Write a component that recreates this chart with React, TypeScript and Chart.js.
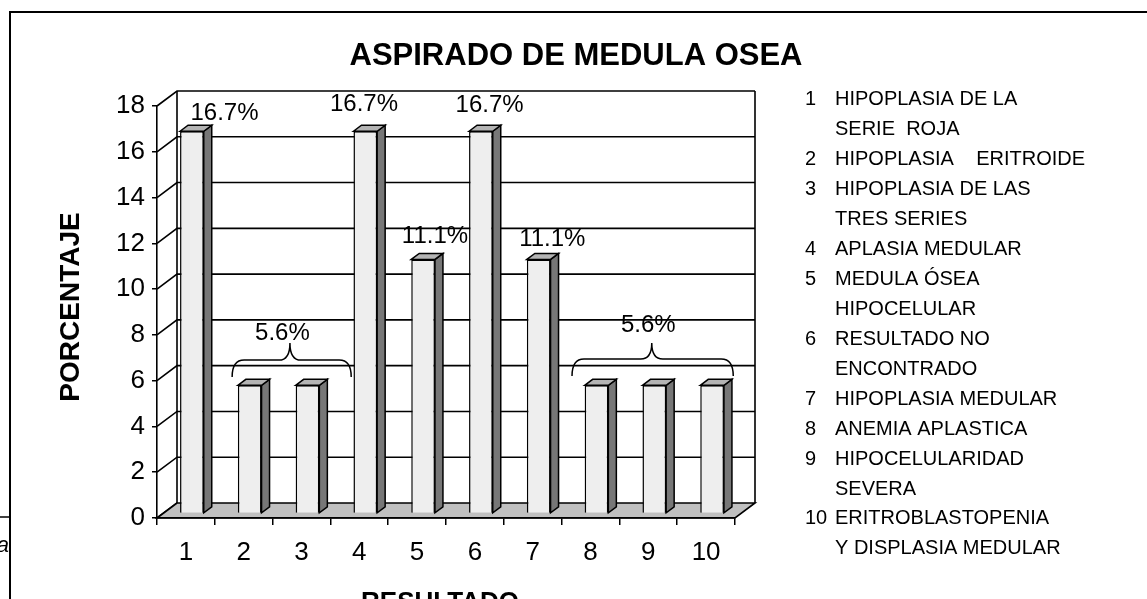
import React, { useEffect, useRef } from 'react';
import { Chart, registerables } from 'chart.js';

Chart.register(...registerables);

// ---------------- data ----------------
const categories = ['1', '2', '3', '4', '5', '6', '7', '8', '9', '10'];
const percentages = [16.7, 5.6, 5.6, 16.7, 11.1, 16.7, 11.1, 5.6, 5.6, 5.6];
const yMin = 0;
const yMax = 18;
const yStep = 2;

const chartTitle = 'ASPIRADO DE MEDULA OSEA';
const yAxisTitle = 'PORCENTAJE';
const xAxisTitle = 'RESULTADO';

const legendNumbers = categories;
const legendDescriptions = [
  ['HIPOPLASIA DE LA', 'SERIE  ROJA'],
  ['HIPOPLASIA    ERITROIDE'],
  ['HIPOPLASIA DE LAS', 'TRES SERIES'],
  ['APLASIA MEDULAR'],
  ['MEDULA ÓSEA', 'HIPOCELULAR'],
  ['RESULTADO NO', 'ENCONTRADO'],
  ['HIPOPLASIA MEDULAR'],
  ['ANEMIA APLASTICA'],
  ['HIPOCELULARIDAD', 'SEVERA'],
  ['ERITROBLASTOPENIA', 'Y DISPLASIA MEDULAR'],
];

// bars carrying their own value label, and groups labelled once with a brace
const singleLabelBars = [0, 3, 4, 5, 6];
const bracedGroups = [
  [1, 2],
  [7, 8, 9],
];

// ---------------- layout / style (not data) ----------------
const W = 1147;
const H = 599;
const PLOT = { left: 157, right: 735, top: 106, bottom: 518 };
const WALL = { dx: 20, dy: -15 };
const BAR_FRONT = { dx: 6, dy: -4.5 };
const BAR_SIDE = { dx: 8, dy: -6 };
const FONT = '"Liberation Sans", Arial, sans-serif';
// pixel offsets of single value labels from (bar front centre, value pixel)
const singleLabelOffset: Record<number, [number, number]> = {
  0: [32.6, -24.7],
  3: [-1.3, -33.7],
  4: [11.9, -29.9],
  5: [8.7, -32.7],
  6: [13.6, -26.9],
};
// brace geometry in (category index, value) units
const braceGeom = [
  { x0: 0.8, x1: 2.86, xc: 1.8, yEnd: 6.16, yMid: 6.9, yTip: 7.65, tx: 1.67, ty: 8.17 },
  { x0: 6.68, x1: 9.47, xc: 8.06, yEnd: 6.2, yMid: 6.95, yTip: 7.65, tx: 8.0, ty: 8.52 },
];
const LEGEND = { numX: 805, textX: 835, firstY: 98.3, lineH: 29.93, size: 20 };

const fmt = (v: number) => v.toFixed(1) + '%';

function poly(ctx: CanvasRenderingContext2D, pts: number[][], fill: string) {
  ctx.beginPath();
  ctx.moveTo(pts[0][0], pts[0][1]);
  for (let i = 1; i < pts.length; i++) ctx.lineTo(pts[i][0], pts[i][1]);
  ctx.closePath();
  ctx.fillStyle = fill;
  ctx.fill();
  ctx.stroke();
}

function drawBrace(
  ctx: CanvasRenderingContext2D,
  xl: number,
  xr: number,
  xc: number,
  yEnd: number,
  yMid: number,
  yTip: number
) {
  const r = 12;
  const rc = 11;
  ctx.beginPath();
  ctx.moveTo(xl, yEnd);
  ctx.quadraticCurveTo(xl, yMid, xl + r, yMid);
  ctx.lineTo(xc - rc, yMid);
  ctx.quadraticCurveTo(xc, yMid, xc, yTip);
  ctx.quadraticCurveTo(xc, yMid, xc + rc, yMid);
  ctx.lineTo(xr - r, yMid);
  ctx.quadraticCurveTo(xr, yMid, xr, yEnd);
  ctx.stroke();
}

const threeD = {
  id: 'threeD',
  beforeDraw(chart: any) {
    const { ctx, chartArea: a } = chart;
    const y = chart.scales.y;
    ctx.save();
    ctx.fillStyle = '#fff';
    ctx.fillRect(0, 0, W, H);
    ctx.strokeStyle = '#000';
    // outer frame
    ctx.lineWidth = 2;
    ctx.beginPath();
    ctx.moveTo(10, H + 2);
    ctx.lineTo(10, 12);
    ctx.lineTo(W + 2, 12);
    ctx.stroke();
    // stray piece of page behind the chart
    ctx.lineWidth = 1.5;
    ctx.beginPath();
    ctx.moveTo(0, 517);
    ctx.lineTo(10, 517);
    ctx.stroke();
    ctx.fillStyle = '#000';
    ctx.font = 'italic 22px ' + FONT;
    ctx.textAlign = 'right';
    ctx.textBaseline = 'alphabetic';
    ctx.fillText('pa', 9, 552);

    // walls
    ctx.lineWidth = 1.6;
    const L = a.left;
    const R = a.right;
    for (let v = yMin; v <= yMax; v += yStep) {
      const py = y.getPixelForValue(v);
      ctx.beginPath();
      ctx.moveTo(L, py);
      ctx.lineTo(L + WALL.dx, py + WALL.dy);
      if (v > yMin) ctx.lineTo(R + WALL.dx, py + WALL.dy);
      ctx.stroke();
    }
    const topB = y.getPixelForValue(yMax) + WALL.dy;
    const botB = y.getPixelForValue(yMin) + WALL.dy;
    ctx.beginPath();
    ctx.moveTo(L + WALL.dx, topB);
    ctx.lineTo(L + WALL.dx, botB);
    ctx.moveTo(R + WALL.dx, topB);
    ctx.lineTo(R + WALL.dx, botB);
    ctx.stroke();
    // floor
    const b0 = y.getPixelForValue(yMin);
    poly(
      ctx,
      [
        [L, b0],
        [R, b0],
        [R + WALL.dx, b0 + WALL.dy],
        [L + WALL.dx, b0 + WALL.dy],
      ],
      '#c0c0c0'
    );
    ctx.restore();
  },
  beforeDatasetsDraw(chart: any) {
    chart.ctx.save();
    chart.ctx.translate(BAR_FRONT.dx, BAR_FRONT.dy);
  },
  afterDatasetsDraw(chart: any) {
    const ctx = chart.ctx;
    ctx.restore();
    ctx.save();
    ctx.strokeStyle = '#000';
    ctx.lineWidth = 1.5;
    ctx.lineJoin = 'miter';
    const meta = chart.getDatasetMeta(0);
    meta.data.forEach((el: any) => {
      const { x, y, base, width } = el.getProps(['x', 'y', 'base', 'width'], true);
      const xl = x - width / 2 + BAR_FRONT.dx;
      const xr = x + width / 2 + BAR_FRONT.dx;
      const yt = y + BAR_FRONT.dy;
      const yb = base + BAR_FRONT.dy;
      poly(
        ctx,
        [
          [xr, yt],
          [xr + BAR_SIDE.dx, yt + BAR_SIDE.dy],
          [xr + BAR_SIDE.dx, yb + BAR_SIDE.dy],
          [xr, yb],
        ],
        '#777777'
      );
      poly(
        ctx,
        [
          [xl, yt],
          [xl + BAR_SIDE.dx, yt + BAR_SIDE.dy],
          [xr + BAR_SIDE.dx, yt + BAR_SIDE.dy],
          [xr, yt],
        ],
        '#b4b4b4'
      );
    });
    ctx.restore();
  },
  afterDraw(chart: any) {
    const { ctx } = chart;
    const xs = chart.scales.x;
    const ys = chart.scales.y;
    ctx.save();
    ctx.fillStyle = '#000';
    ctx.strokeStyle = '#000';
    ctx.textBaseline = 'alphabetic';

    // title
    ctx.font = 'bold 31px ' + FONT;
    ctx.textAlign = 'center';
    ctx.fillText(chartTitle, 576, 65);

    // axis titles
    ctx.font = 'bold 26px ' + FONT;
    ctx.fillText(xAxisTitle, 440, 610);
    ctx.save();
    ctx.font = 'bold 28px ' + FONT;
    ctx.translate(79, 307);
    ctx.rotate(-Math.PI / 2);
    ctx.fillText(yAxisTitle, 0, 0);
    ctx.restore();

    // single value labels
    ctx.font = '24px ' + FONT;
    singleLabelBars.forEach((i) => {
      const [ox, oy] = singleLabelOffset[i];
      const cx = xs.getPixelForValue(i) + BAR_FRONT.dx + ox;
      const cy = ys.getPixelForValue(percentages[i]) + oy;
      ctx.fillText(fmt(percentages[i]), cx, cy + 0.358 * 24);
    });

    // braced group labels
    ctx.lineWidth = 1.5;
    bracedGroups.forEach((g, k) => {
      const b = braceGeom[k];
      drawBrace(
        ctx,
        xs.getPixelForValue(b.x0),
        xs.getPixelForValue(b.x1),
        xs.getPixelForValue(b.xc),
        ys.getPixelForValue(b.yEnd),
        ys.getPixelForValue(b.yMid),
        ys.getPixelForValue(b.yTip)
      );
      ctx.fillText(
        fmt(percentages[g[0]]),
        xs.getPixelForValue(b.tx),
        ys.getPixelForValue(b.ty) + 0.358 * 24
      );
    });

    // legend text block
    ctx.font = LEGEND.size + 'px ' + FONT;
    ctx.textAlign = 'left';
    let line = 0;
    legendDescriptions.forEach((desc, i) => {
      desc.forEach((txt, j) => {
        const by = LEGEND.firstY + line * LEGEND.lineH + 0.358 * LEGEND.size;
        if (j === 0) ctx.fillText(legendNumbers[i], LEGEND.numX, by);
        ctx.fillText(txt, LEGEND.textX, by);
        line++;
      });
    });
    ctx.restore();
  },
};

export default function App() {
  const ref = useRef<HTMLCanvasElement | null>(null);

  useEffect(() => {
    document.body.style.margin = '0';
    document.body.style.overflow = 'hidden';
    const canvas = ref.current;
    if (!canvas) return;
    const chart = new Chart(canvas, {
      type: 'bar',
      data: {
        labels: categories,
        datasets: [
          {
            data: percentages,
            backgroundColor: '#eeeeee',
            borderColor: '#000000',
            borderWidth: 1.5,
            barPercentage: 0.41,
            categoryPercentage: 1,
            clip: false as any,
          },
        ],
      },
      options: {
        responsive: false,
        animation: false,
        devicePixelRatio: 1,
        layout: {
          padding: { left: 0, top: PLOT.top, right: W - PLOT.right, bottom: 0 },
        },
        plugins: {
          legend: { display: false },
          title: { display: false },
          tooltip: { enabled: false },
        },
        scales: {
          x: {
            afterFit: (s: any) => {
              s.height = H - PLOT.bottom;
            },
            grid: {
              offset: true,
              drawOnChartArea: false,
              drawTicks: true,
              tickLength: 7,
              color: '#000',
              lineWidth: 1.5,
            },
            border: { display: true, color: '#000', width: 1.6 },
            ticks: {
              color: '#000',
              font: { family: FONT, size: 26 },
              padding: 12,
              maxRotation: 0,
              autoSkip: false,
            },
          },
          y: {
            min: yMin,
            max: yMax,
            afterFit: (s: any) => {
              s.width = PLOT.left;
            },
            grid: {
              drawOnChartArea: false,
              drawTicks: true,
              tickLength: 5,
              color: '#000',
              lineWidth: 1.5,
            },
            border: { display: true, color: '#000', width: 1.6 },
            ticks: {
              stepSize: yStep,
              color: '#000',
              font: { family: FONT, size: 26 },
              padding: 7,
            },
          },
        },
      },
      plugins: [threeD],
    });
    return () => chart.destroy();
  }, []);

  return (
    <div style={{ width: W, height: H, overflow: 'hidden' }}>
      <canvas ref={ref} width={W} height={H} style={{ display: 'block' }} />
    </div>
  );
}
